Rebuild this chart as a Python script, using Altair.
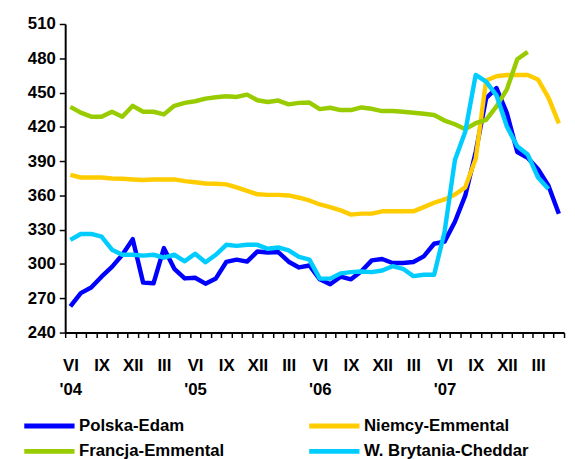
import json
import altair as alt
import pandas as pd

series_names = ["Polska-Edam", "Niemcy-Emmental", "Francja-Emmental", "W. Brytania-Cheddar"]
series_colors = ["#0000FF", "#FFCC00", "#99CC00", "#00CCFF"]
# legend fills column by column: left column Polska / Francja, right column Niemcy / W. Brytania
legend_order = ["Polska-Edam", "Francja-Emmental", "Niemcy-Emmental", "W. Brytania-Cheddar"]

# monthly values, VI 2004 .. V 2008 (48 months)
polska = [263, 274.5, 279.4, 288.9, 297.5, 308.1, 321.7, 283.7, 283.1, 313.9,
          295.8, 287.4, 288, 282.8, 287.4, 301.8, 303.8, 302.1, 311, 310.1,
          310.5, 302, 297, 298.7, 286.6, 282.3, 288.9, 286.6, 293.7, 303.2,
          304.4, 300.9, 300.9, 301.8, 306.7, 317.7, 319.6, 337, 360, 398,
          445, 454, 432, 398, 393, 383, 368.5, 344]
niemcy = [378, 375.7, 375.7, 375.7, 374.8, 374.6, 374, 373.5, 374, 374,
          374, 372.5, 371.5, 370.5, 370.3, 369.7, 367, 364, 361, 360.5,
          360.5, 360, 358, 355.6, 352.1, 349.8, 347, 343.2, 344.1, 344.1,
          346.1, 346.1, 346.1, 346.1, 349.8, 353.6, 356.5, 360.8, 367.1, 392,
          460.6, 464.3, 465.4, 465.4, 465.4, 461.4, 445.6, 423]
francja = [437.5, 432.4, 428.9, 428.9, 433.2, 428.9, 438.4, 433.2, 433.2, 430.9,
           438.4, 441, 442.4, 444.7, 445.9, 446.8, 446.2, 448.2, 443.3, 441.8,
           443, 439.7, 441, 441.3, 435.5, 436.7, 434.7, 434.7, 437, 435.8,
           433.8, 433.8, 433.2, 432.4, 431.5, 430.4, 425.5, 422.3, 418, 423.2,
           426.1, 438, 452.8, 479.2, 485.6]
brytania = [321.1, 326.3, 326.3, 324, 312.5, 308.1, 308.1, 307.3, 308.1, 305.5,
            308.1, 302.4, 309, 301.5, 308.1, 316.8, 315.9, 316.8, 316.8, 313.3,
            314.5, 312, 306.2, 303.8, 287.2, 287.2, 291.8, 292.9, 293.5, 292.9,
            294.3, 298.1, 295.8, 289.4, 290.6, 290.6, 328, 391, 416, 465.4,
            459.6, 447.6, 420.3, 403, 395.9, 375.7, 365.7]

roman_labels = ["VI", "IX", "XII", "III"]
year_labels = ["'04", "'05", "'06", "'07"]
n_months = 48

rows = []
for name, vals in zip(series_names, [polska, niemcy, francja, brytania]):
    for i, v in enumerate(vals):
        rows.append({"idx": i, "series": name, "value": v})
df = pd.DataFrame(rows)

label_expr = (
    "datum.value % 3 == 0 ? ["
    + json.dumps(roman_labels) + "[(datum.value / 3) % 4], "
    + "datum.value % 12 == 0 ? " + json.dumps(year_labels) + "[datum.value / 12] : ''"
    + "] : ''"
)

FONT = "Liberation Sans"

chart = alt.Chart(df).mark_line(strokeWidth=4.5, strokeJoin="round").encode(
    x=alt.X(
        "idx:O",
        sort=list(range(n_months)),
        scale=alt.Scale(type="band", domain=list(range(n_months)), paddingInner=0, paddingOuter=0),
        bandPosition=0.5,
        title=None,
        axis=alt.Axis(
            tickBand="extent",
            labelExpr=label_expr,
            labelAngle=0,
            labelOverlap=False,
            labelFont=FONT,
            labelFontSize=17,
            labelFontWeight="bold",
            labelColor="black",
            labelPadding=20,
            labelLineHeight=25,
            labelBaseline="top",
            tickSize=5,
            tickColor="black",
            tickWidth=1.5,
            domainColor="black",
            domainWidth=2,
            grid=False,
        ),
    ),
    y=alt.Y(
        "value:Q",
        scale=alt.Scale(domain=[240, 510], nice=False, zero=False),
        title=None,
        axis=alt.Axis(
            values=list(range(240, 511, 30)),
            labelFont=FONT,
            labelFontSize=17,
            labelFontWeight="bold",
            labelColor="black",
            labelPadding=4,
            tickSize=6,
            tickColor="black",
            tickWidth=1.5,
            domainColor="black",
            domainWidth=2,
            grid=False,
        ),
    ),
    color=alt.Color(
        "series:N",
        scale=alt.Scale(domain=legend_order, range=[series_colors[series_names.index(s)] for s in legend_order]),
        legend=alt.Legend(
            title=None,
            orient="none",
            legendX=-45,
            legendY=399,
            columns=2,
            columnPadding=75,
            rowPadding=5,
            symbolType="M-1,0H9.2",
            symbolSize=100,
            symbolStrokeWidth=5,
            labelFont=FONT,
            labelFontSize=17,
            labelFontWeight="bold",
            labelColor="black",
            labelOffset=42,
            labelLimit=400,
            padding=0,
        ),
    ),
    order=alt.Order("idx:Q"),
).properties(
    width=506,
    height=313,
    padding={"left": 58, "top": 13, "right": 3, "bottom": 125},
    autosize=alt.AutoSizeParams(type="none"),
).configure_view(stroke=None)

chart.save("out.html", embed_options={"renderer": "svg", "actions": False})
